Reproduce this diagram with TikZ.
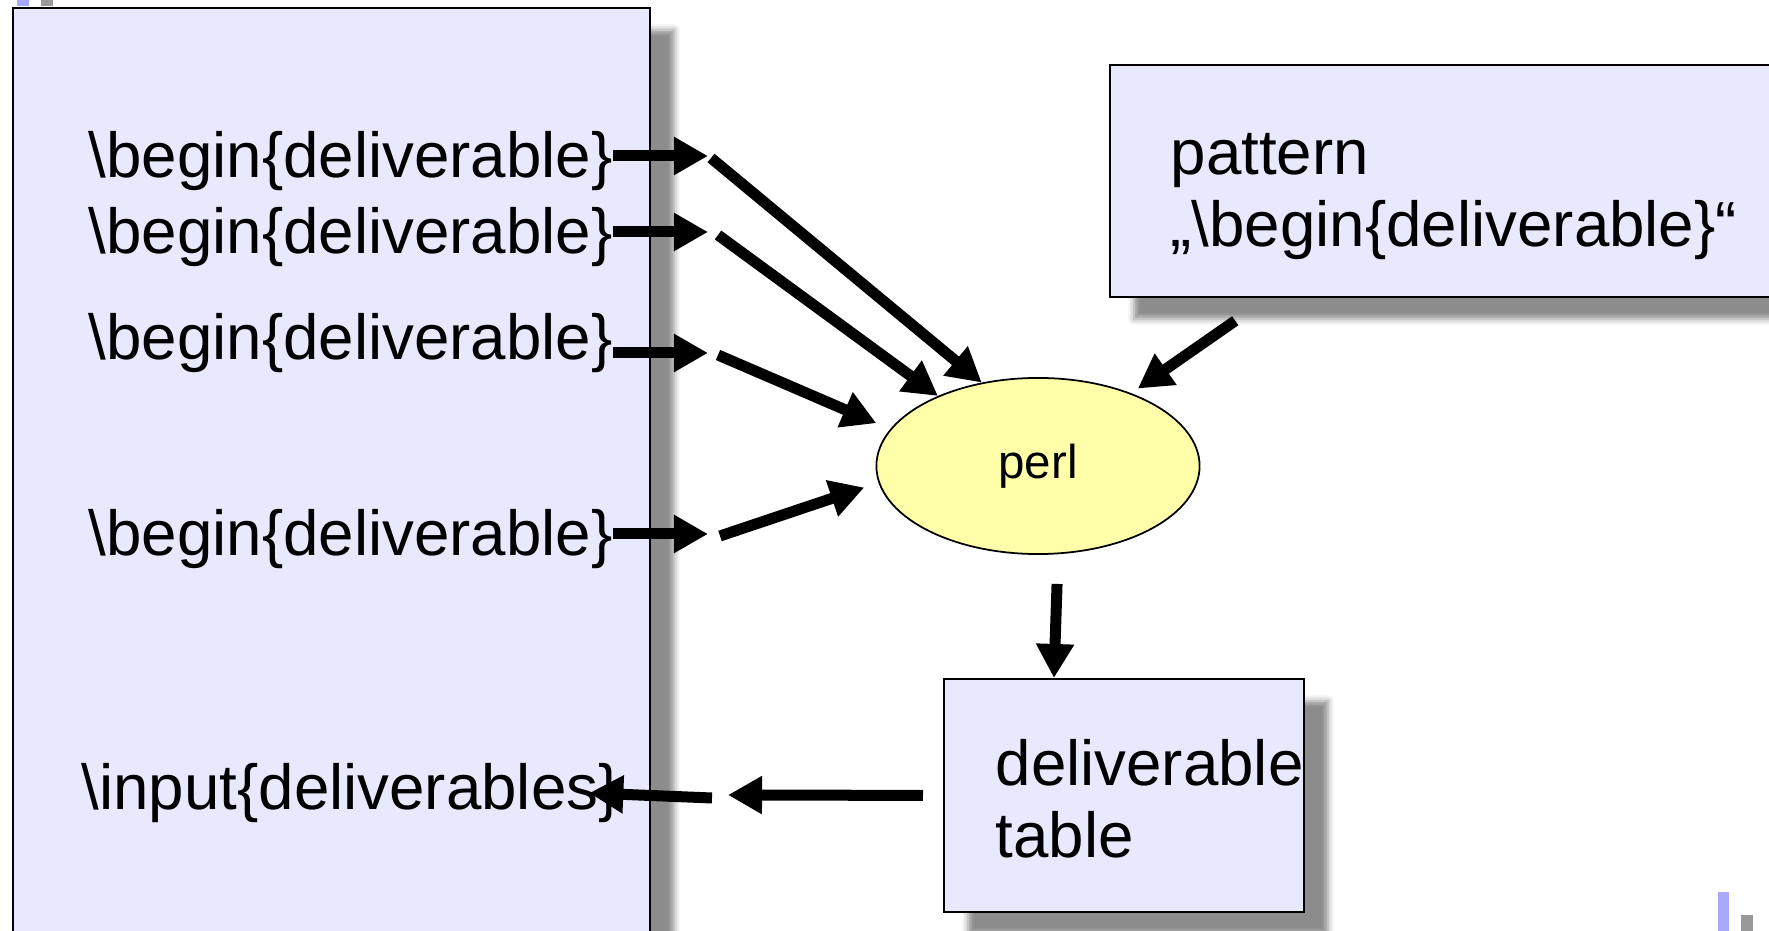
\documentclass[tikz,border=0pt]{standalone}
\usepackage{fontspec}
\setmainfont{Liberation Sans}
\usetikzlibrary{positioning, arrows.meta, shapes.geometric, shadows.blur}

\definecolor{boxblue}{HTML}{E8E8FF}
\definecolor{perlyellow}{HTML}{FFFFAA}
\definecolor{markblue}{HTML}{A8A8FF}
\definecolor{markgray}{HTML}{999999}

\begin{document}
\begin{tikzpicture}[x=0.01cm, y=-0.01cm,
  panel/.style={draw, rectangle, line width=0.5pt, fill=boxblue, inner sep=0pt,
    blur shadow={shadow xshift=0.24cm, shadow yshift=-0.22cm,
      shadow blur radius=0.06cm, shadow opacity=45}},
  txt/.style={inner sep=0pt, align=left, font=\fontsize{18.1}{20.5}\selectfont},
  arrow/.style={-{Triangle[length=0.34cm, width=0.36cm]}, line width=0.11cm}
]
\useasboundingbox (0,0) rectangle (1769,931);

% slide marks
\fill[markblue] (17,0) rectangle (29,6);
\fill[markgray] (41,0) rectangle (53,6);
\fill[markblue] (1718,892) rectangle (1729,931);
\fill[markgray] (1741,915) rectangle (1753,931);

% boxes
\node[panel, minimum width=6.37cm, minimum height=9.6cm, anchor=north west] (source) at (12,7) {};
\node[panel, minimum width=6.91cm, minimum height=2.32cm, anchor=north west] (pattern) at (1109,64) {};
\node[panel, minimum width=3.60cm, minimum height=2.33cm, anchor=north west] (table) at (943,678) {};
\node[ellipse, draw, line width=0.5pt, fill=perlyellow, minimum width=3.23cm, minimum height=1.76cm,
  inner sep=0pt, font=\fontsize{13.5}{16}\selectfont] (perl) at (1038,466) {\raisebox{-0.03cm}{perl}};

% texts
\node[txt, anchor=west] (b1) at (88,161) {\textbackslash begin\{deliverable\}};
\node[txt, anchor=west] (b2) at (88,237) {\textbackslash begin\{deliverable\}};
\node[txt, anchor=west] (b3) at (88,343) {\textbackslash begin\{deliverable\}};
\node[txt, anchor=west] (b4) at (88,539) {\textbackslash begin\{deliverable\}};
\node[txt, anchor=west] (inp) at (81,793) {\textbackslash input\{deliverables\}};
\node[txt, anchor=base west] (pattxt) at (1170,247) {pattern\\„\textbackslash begin\{deliverable\}“};
\node[txt, anchor=base west] (tabtxt) at (995,858) {deliverable\\table};

% stub ends and restarts
\coordinate (s1) at (708,156);
\coordinate (s2) at (708,232);
\coordinate (s3) at (708,353);
\coordinate (s4) at (708,534);
\coordinate (o1) at (711,158);
\coordinate (o2) at (718,235);
\coordinate (o3) at (718,355);
\coordinate (o4) at (720,536);
\coordinate (r1) at (728,795);
\coordinate (r2) at (712,798);

\draw[arrow] (b1.east |- s1) -- (s1);
\draw[arrow] (b2.east |- s2) -- (s2);
\draw[arrow] (b3.east |- s3) -- (s3);
\draw[arrow] (b4.east |- s4) -- (s4);

\draw[arrow] (o1) -- (perl.124);
\draw[arrow] (o2) -- (perl.145);
\draw[arrow, shorten >=0.15cm] (o3) -- (perl.166);
\draw[arrow, shorten >=0.15cm] (o4) -- (perl.186);

\draw[arrow, shorten <=0.4cm, shorten >=0.08cm] ([xshift=1.59cm]pattern.south west) -- (perl.38);
\draw[arrow, shorten <=0.29cm] ([xshift=0.2cm]perl.south) -- ([xshift=-0.7cm]table.north);

\draw[arrow, shorten <=0.2cm] (table.west) -- (r1);
\draw[arrow] (r2) -- ([xshift=-0.31cm]inp.east);

\end{tikzpicture}
\end{document}
